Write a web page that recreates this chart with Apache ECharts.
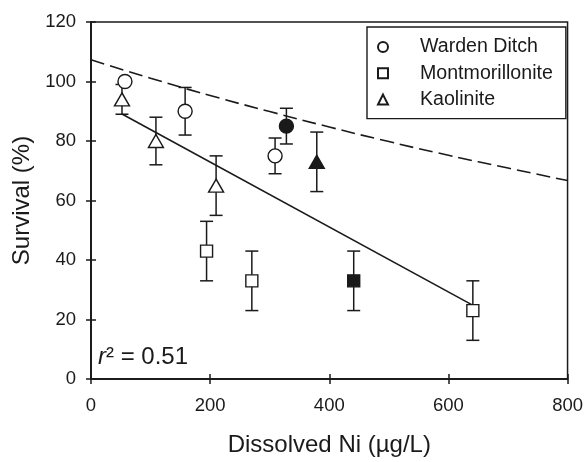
<!DOCTYPE html>
<html>
<head>
<meta charset="utf-8">
<script src="https://cdn.jsdelivr.net/npm/echarts@6/dist/echarts.min.js"></script>
<style>
  html, body { margin: 0; padding: 0; background: #fff; }
  #main { width: 586px; height: 462px; }
</style>
</head>
<body>
<div id="main"></div>
<script>
// Warden Ditch (open circles) + one filled point
var wardenX = [57, 158, 309];
var wardenY = [100, 90, 75];
var wardenErr = [0, 8, 6];
var wardenFillX = [328];
var wardenFillY = [85];
var wardenFillErr = [6];

// Montmorillonite (open squares) + one filled point
var montX = [194, 270, 641];
var montY = [43, 33, 23];
var montErr = [10, 10, 10];
var montFillX = [441];
var montFillY = [33];
var montFillErr = [10];

// Kaolinite (open triangles) + one filled point
var kaoX = [52, 109, 210];
var kaoY = [94, 80, 65];
var kaoErr = [5, 8, 10];
var kaoFillX = [379];
var kaoFillY = [73];
var kaoFillErr = [10];

// regression line (solid) and dashed curve
var fitX = [52, 639];
var fitY = [89.1, 25];
var dashX = [0, 100, 200, 300, 400, 500, 600, 700, 800];
var dashY = [107.3, 101.1, 95.3, 89.9, 84.7, 79.8, 75.2, 70.9, 66.7];

var ink = '#1a1a1a';
var font = 'Liberation Sans';

function pts(xs, ys) {
  return xs.map(function (x, i) { return [x, ys[i]]; });
}
function bars(xs, ys, es) {
  return xs.map(function (x, i) { return [x, ys[i] - es[i], ys[i] + es[i]]; });
}

var errData = [].concat(
  bars(wardenX, wardenY, wardenErr), bars(wardenFillX, wardenFillY, wardenFillErr),
  bars(montX, montY, montErr), bars(montFillX, montFillY, montFillErr),
  bars(kaoX, kaoY, kaoErr), bars(kaoFillX, kaoFillY, kaoFillErr)
);

var openStyle = { color: '#fff', borderColor: ink, borderWidth: 1.4, opacity: 1 };
var fillStyle = { color: ink, borderColor: ink, borderWidth: 1.4, opacity: 1 };

function xAx(inside, labels) {
  return {
    type: 'value', min: 0, max: 800, interval: 200, position: 'bottom',
    name: labels ? 'Dissolved Ni (\u00b5g/L)' : '',
    nameLocation: 'middle', nameGap: 54,
    nameTextStyle: { fontFamily: font, fontSize: 24, color: ink },
    axisLine: { show: true, lineStyle: { color: ink, width: 1.5 } },
    axisTick: { show: true, inside: inside, length: 5, lineStyle: { color: ink, width: 1.5 } },
    axisLabel: { show: labels, margin: 17, fontFamily: font, fontSize: 18.5, color: ink },
    splitLine: { show: false }
  };
}
function yAx(inside, labels) {
  return {
    type: 'value', min: 0, max: 120, interval: 20, position: 'left',
    name: labels ? 'Survival (%)' : '',
    nameLocation: 'middle', nameGap: 55,
    nameTextStyle: { fontFamily: font, fontSize: 24, color: ink },
    axisLine: { show: true, lineStyle: { color: ink, width: 1.5 } },
    axisTick: { show: true, inside: inside, length: 5, lineStyle: { color: ink, width: 1.5 } },
    axisLabel: { show: labels, margin: 15, fontFamily: font, fontSize: 18.5, color: ink },
    splitLine: { show: false }
  };
}

var chart = echarts.init(document.getElementById('main'));
chart.setOption({
  animation: false,
  backgroundColor: '#fff',
  grid: {
    left: 91, right: 17, top: 22, bottom: 80,
    show: true, borderColor: ink, borderWidth: 1.5, backgroundColor: 'transparent'
  },
  xAxis: [xAx(false, true), xAx(true, false)],
  yAxis: [yAx(false, true), yAx(true, false)],
  legend: {
    data: ['Warden Ditch', 'Montmorillonite', 'Kaolinite'],
    orient: 'vertical',
    left: 367, top: 27,
    padding: [10, 13, 9, 10],
    itemGap: 6.3,
    itemWidth: 10, itemHeight: 10,
    borderColor: ink, borderWidth: 1.4,
    backgroundColor: '#fff',
    textStyle: { fontFamily: font, fontSize: 19.6, color: ink, lineHeight: 20, padding: [0, 0, 0, 27] }
  },
  graphic: [{
    type: 'text', left: 98, top: 345, z: 10,
    style: {
      text: '{i|r}\u00b2 = 0.51',
      font: '24px "Liberation Sans"', fill: ink,
      rich: { i: { fontStyle: 'italic', fontFamily: font, fontSize: 24, color: ink } }
    }
  }],
  series: [
    {
      type: 'custom', name: 'err', z: 2, silent: true,
      data: errData,
      encode: { x: 0, y: [1, 2] },
      renderItem: function (params, api) {
        var x = api.value(0);
        var top = api.coord([x, api.value(2)]);
        var bot = api.coord([x, api.value(1)]);
        var w = 6.5;
        var st = { stroke: ink, lineWidth: 1.5 };
        return {
          type: 'group', children: [
            { type: 'line', shape: { x1: top[0], y1: top[1], x2: bot[0], y2: bot[1] }, style: st },
            { type: 'line', shape: { x1: top[0] - w, y1: top[1], x2: top[0] + w, y2: top[1] }, style: st },
            { type: 'line', shape: { x1: bot[0] - w, y1: bot[1], x2: bot[0] + w, y2: bot[1] }, style: st }
          ]
        };
      }
    },
    {
      type: 'line', name: 'fit', z: 3, data: pts(fitX, fitY), symbol: 'none',
      lineStyle: { color: ink, width: 1.6 }
    },
    {
      type: 'line', name: 'model', z: 3, data: pts(dashX, dashY), symbol: 'none', smooth: true,
      lineStyle: { color: ink, width: 1.6, type: [14, 6] }
    },
    { type: 'scatter', name: 'Warden Ditch', z: 4, symbol: 'circle', symbolSize: 14,
      data: pts(wardenX, wardenY), itemStyle: openStyle },
    { type: 'scatter', name: 'Warden Ditch filled', z: 4, symbol: 'circle', symbolSize: 14,
      data: pts(wardenFillX, wardenFillY), itemStyle: fillStyle },
    { type: 'scatter', name: 'Montmorillonite', z: 4, symbol: 'rect', symbolSize: 12,
      data: pts(montX, montY), itemStyle: openStyle },
    { type: 'scatter', name: 'Montmorillonite filled', z: 4, symbol: 'rect', symbolSize: 12,
      data: pts(montFillX, montFillY), itemStyle: fillStyle },
    { type: 'scatter', name: 'Kaolinite', z: 4, symbol: 'triangle', symbolSize: [15, 13],
      data: pts(kaoX, kaoY), itemStyle: openStyle },
    { type: 'scatter', name: 'Kaolinite filled', z: 4, symbol: 'triangle', symbolSize: [15, 13],
      data: pts(kaoFillX, kaoFillY), itemStyle: fillStyle }
  ]
});
</script>
</body>
</html>
